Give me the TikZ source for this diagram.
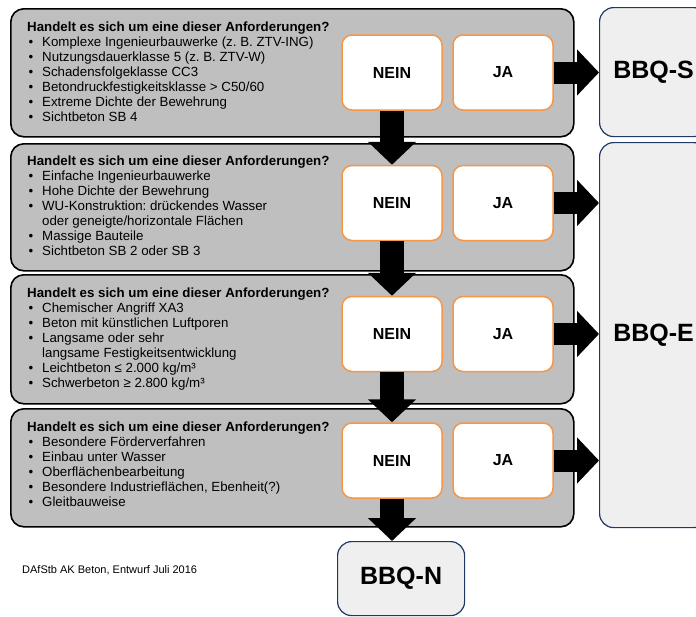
\documentclass[tikz,border=0pt]{standalone}
\usepackage{fontspec}
\setmainfont{Liberation Sans}
\usetikzlibrary{arrows.meta}
\frenchspacing

\definecolor{panelgray}{HTML}{BFBFBF}
\definecolor{boxorange}{HTML}{F79646}
\definecolor{bbqblue}{HTML}{203864}
\definecolor{bbqfill}{HTML}{EFEFEF}

\newcommand{\bul}{\makebox[15pt][l]{\hspace{1.5pt}\textbullet}}
\newcommand{\ind}{\hspace*{15pt}}

\tikzset{
  panel/.style={draw=black, line width=1.6pt, fill=panelgray, rounded corners=13pt, inner sep=0pt, anchor=north west},
  answer/.style={draw=boxorange, line width=1.5pt, fill=white, rounded corners=10pt, minimum width=100pt, minimum height=75pt, font=\fontsize{16}{16}\selectfont\bfseries},
  bbq/.style={draw=bbqblue, line width=1.2pt, fill=bbqfill, rounded corners=14pt, anchor=north west, font=\fontsize{25}{25}\selectfont\bfseries},
  question/.style={anchor=north west, inner sep=0pt, align=left, font=\fontsize{13.3}{15}\selectfont},
  down/.style={line width=24pt, -{Triangle[length=23pt,width=47pt]}},
  across/.style={line width=22pt, -{Triangle[length=22pt,width=45pt]}}
}

\begin{document}
\begin{tikzpicture}[x=1pt,y=-1pt]
\useasboundingbox (0,0) rectangle (696,616);
\clip (0,0) rectangle (696,616);

% question panels
\foreach \i/\top/\h in {1/8/128,2/143/127,3/274/129,4/408/118}{
  \node[panel, minimum width=563pt, minimum height=\h pt] (panel\i) at (10,\top) {};
}

% results
\node[bbq, minimum width=108pt, minimum height=129pt] (bbqS) at (599,7) {BBQ-S};
\node[bbq, minimum width=108pt, minimum height=385pt] (bbqE) at (599,142) {BBQ-E};
\node[bbq, minimum width=127pt, minimum height=74pt] (bbqN) at (337,541) {BBQ-N};

% answers
\foreach \i/\y in {1/72.5,2/203,3/334,4/460.5}{
  \node[answer] (nein\i) at (392,\y) {NEIN};
  \node[answer] (ja\i) at (503,\y) {JA};
}

% questions
\node[question] (q1) at (27,22) {\textbf{Handelt es sich um eine dieser Anforderungen?}\\
  \bul Komplexe Ingenieurbauwerke (z. B. ZTV-ING)\\
  \bul Nutzungsdauerklasse 5 (z. B. ZTV-W)\\
  \bul Schadensfolgeklasse CC3\\
  \bul Betondruckfestigkeitsklasse > C50/60\\
  \bul Extreme Dichte der Bewehrung\\
  \bul Sichtbeton SB 4};
\node[question] (q2) at (27,155.5) {\textbf{Handelt es sich um eine dieser Anforderungen?}\\
  \bul Einfache Ingenieurbauwerke\\
  \bul Hohe Dichte der Bewehrung\\
  \bul WU-Konstruktion: drückendes Wasser\\
  \ind oder geneigte/horizontale Flächen\\
  \bul Massige Bauteile\\
  \bul Sichtbeton SB 2 oder SB 3};
\node[question] (q3) at (27,288) {\textbf{Handelt es sich um eine dieser Anforderungen?}\\
  \bul Chemischer Angriff XA3\\
  \bul Beton mit künstlichen Luftporen\\
  \bul Langsame oder sehr\\
  \ind langsame Festigkeitsentwicklung\\
  \bul Leichtbeton ≤ 2.000 kg/m³\\
  \bul Schwerbeton ≥ 2.800 kg/m³};
\node[question] (q4) at (27,421.5) {\textbf{Handelt es sich um eine dieser Anforderungen?}\\
  \bul Besondere Förderverfahren\\
  \bul Einbau unter Wasser\\
  \bul Oberflächenbearbeitung\\
  \bul Besondere Industrieflächen, Ebenheit(?)\\
  \bul Gleitbauweise};

% arrows
\foreach \i/\j in {1/2,2/3,3/4}{
  \draw[down] (nein\i.south) -- (nein\j.north);
}
\draw[down] (nein4.south) -- (nein4.south |- bbqN.north);
\foreach \i/\t in {1/bbqS,2/bbqE,3/bbqE,4/bbqE}{
  \draw[across] (ja\i.east) -- (ja\i.east -| \t.west);
}

\node[anchor=base west, inner sep=0pt, font=\fontsize{11}{13}\selectfont] (note) at (22,573) {DAfStb AK Beton, Entwurf Juli 2016};
\end{tikzpicture}
\end{document}
